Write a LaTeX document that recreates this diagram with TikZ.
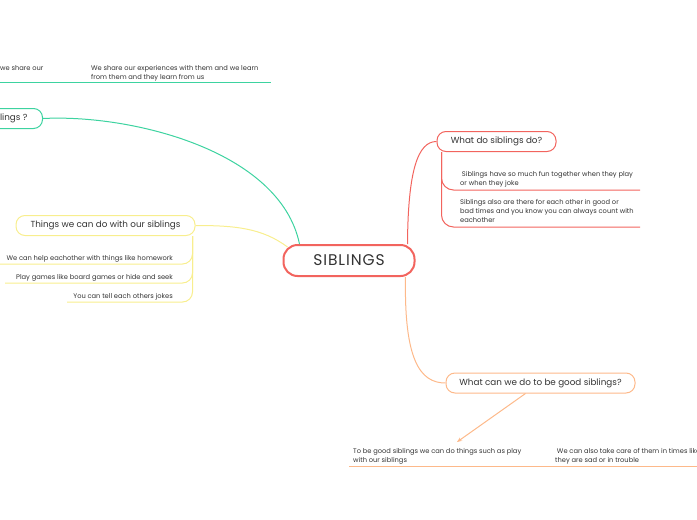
\documentclass[tikz,border=0pt]{standalone}
\usepackage{fontspec}
\setmainfont{Poppins}
\usetikzlibrary{arrows.meta}
\definecolor{redb}{HTML}{F2645E}
\definecolor{greenb}{HTML}{3DD3A0}
\definecolor{yellowb}{HTML}{F8EE8E}
\definecolor{orangeb}{HTML}{FDB98A}
\definecolor{inkb}{HTML}{333333}
\begin{document}
\begin{tikzpicture}[x=1pt, y=-1pt, font=\fontsize{6.7}{9.3}\selectfont, text=inkb,
  topic/.style={draw, rounded corners=9pt, line width=1pt, minimum height=20pt, font=\fontsize{8.8}{10}\selectfont},
  main/.style={draw=redb, rounded corners=14pt, line width=2pt, minimum width=131pt, minimum height=31pt,
    font=\fontsize{15.5}{17}\selectfont\addfontfeature{LetterSpace=6}},
  note/.style={anchor=north west, align=left, inner sep=0pt},
  branch/.style={line width=1pt}]
\useasboundingbox (0,0) rectangle (697,520);
\clip (0,0) rectangle (697,520);
\node[main] (sib) at (349,260.5) {SIBLINGS};
\node[topic, draw=redb, minimum width=119pt] (do) at (496.5,141.5) {What do siblings do?};
\node[topic, draw=orangeb, minimum width=189pt] (good) at (540.5,383) {What can we do to be good siblings?};
\node[topic, draw=yellowb, minimum width=179pt] (things) at (105.5,225.5) {Things we can do with our siblings};
\node[topic, draw=greenb, anchor=east, inner xsep=15pt] (why) at (43,118.5) {Why do we love our siblings ?};
\draw[greenb, branch] ([xshift=17pt]sib.north west) .. controls (280,150) and (130,114) .. (why.east);
\draw[yellowb, branch] ([xshift=5pt,yshift=-3pt]sib.north west) .. controls (262,228) and (235,225.5) .. (things.east);
\draw[redb, branch] ([xshift=-8pt]sib.north east) .. controls (408,170) and (418,141.5) .. (do.west);
\draw[orangeb, branch] ([xshift=-10pt]sib.south east) .. controls (404,360) and (420,383) .. (good.west);
\node[note] (w0) at (0,65) {we share our};
\node[note] (w1) at (91,65) {We share our experiences with them and we learn\\from them and they learn from us};
\draw[greenb, branch] (0,82) -- (271,82);
\foreach \t/\y/\l [count=\i] in {We can help eachother with things like homework/257/0,
    Play games like board games or hide and seek/276/5, You can tell each others jokes/295/67} {
  \node[anchor=east, inner sep=0pt] (t\i) at (173,\y+2) {\t};
  \draw[yellowb, branch, rounded corners=10pt] ([xshift=-3pt]things.south east) |- (\l,\y+7);
}
\node[note] (d1) at (460,171) {\ Siblings have so much fun together when they play\\or when they joke};
\node[note] (d2) at (460,199) {Siblings also are there for each other in good or\\bad times and you know you can always count with\\eachother};
\draw[redb, branch, rounded corners=12pt] ([xshift=5pt]do.south west) |- (640,190);
\draw[redb, branch, rounded corners=12pt] ([xshift=5pt]do.south west) |- (640,227);
\node[note] (g1) at (353,448) {To be good siblings we can do things such as play\\with our siblings};
\node[note] (g2) at (555,448) {\ We can also take care of them in times like\\they are sad or in trouble};
\coordinate (gend) at (457,442);
\draw[orangeb, branch, -{Stealth[length=5pt,width=4pt]}] ([xshift=-15pt]good.south) -- (gend);
\draw[orangeb, branch] (349,466) -- (697,466);
\end{tikzpicture}
\end{document}
